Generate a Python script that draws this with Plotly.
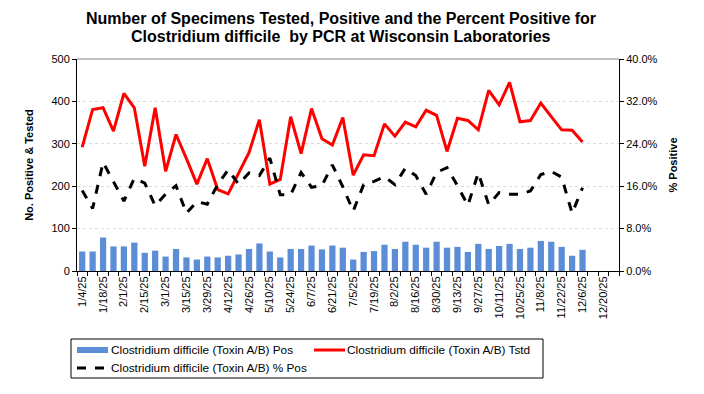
import plotly.graph_objects as go

weeks = ["1/4/25","1/11/25","1/18/25","1/25/25","2/1/25","2/8/25","2/15/25","2/22/25",
         "3/1/25","3/8/25","3/15/25","3/22/25","3/29/25","4/5/25","4/12/25","4/19/25",
         "4/26/25","5/3/25","5/10/25","5/17/25","5/24/25","5/31/25","6/7/25","6/14/25",
         "6/21/25","6/28/25","7/5/25","7/12/25","7/19/25","7/26/25","8/2/25","8/9/25",
         "8/16/25","8/23/25","8/30/25","9/6/25","9/13/25","9/20/25","9/27/25","10/4/25",
         "10/11/25","10/18/25","10/25/25","11/1/25","11/8/25","11/15/25","11/22/25",
         "11/29/25","12/6/25","12/13/25","12/20/25","12/27/25"]

pos = [46,46,79,58,58,67,43,48,34,52,32,27,34,32,36,39,52,65,46,32,52,52,60,51,60,55,27,
       45,47,62,52,69,62,55,69,55,57,45,64,52,59,64,52,55,71,69,57,36,50]

tstd = [292,381,385,330,419,385,247,385,235,322,265,205,265,192,182,231,279,357,205,216,
        364,277,383,312,297,362,226,
        274,272,347,318,351,340,379,367,282,360,355,333,426,392,445,352,355,396,364,333,332,304]

pct_pos = [15.2,11.8,20.5,16.9,13.2,17.5,16.6,12.3,14.5,16.1,10.9,13.1,12.6,16.3,19.1,16.4,
           18.5,18.0,21.3,14.4,14.4,18.6,15.8,16.1,20.0,15.9,11.3,
           16.3,16.9,17.8,16.3,19.4,18.0,14.5,18.6,19.5,16.1,12.4,18.5,12.5,14.8,14.5,14.5,
           15.1,18.2,18.8,17.7,10.9,15.7]

series_names = ["Clostridium difficile (Toxin A/B) Pos",
                "Clostridium difficile (Toxin A/B) Tstd",
                "Clostridium difficile (Toxin A/B) % Pos"]
title_lines = ["Number of Specimens Tested, Positive and the Percent Positive for",
               "Clostridium difficile  by PCR at Wisconsin Laboratories"]

left_ticks = [0, 100, 200, 300, 400, 500]
right_ticks = [0.0, 0.08, 0.16, 0.24, 0.32, 0.40]

FONT = "Liberation Sans, Arial, sans-serif"
BLUE = "#5B8ED6"
RED = "#FF0000"
n = len(pos)

# plot area in pixels
L, R, T, B = 77, 619, 59, 271
W, H = R - L, B - T


def px(xp):
    return (xp - L) / W


def py(yp):
    return (B - yp) / H


fig = go.Figure()
fig.add_trace(go.Bar(
    x=weeks[:n], y=pos, name=series_names[0],
    marker=dict(color=BLUE, line=dict(width=0)),
))
fig.add_trace(go.Scatter(
    x=weeks[:n], y=tstd, name=series_names[1],
    mode="lines", line=dict(color=RED, width=3),
))
fig.add_trace(go.Scatter(
    x=weeks[:n], y=[v / 100 for v in pct_pos], name=series_names[2],
    mode="lines", line=dict(color="#000000", width=3, dash="dash"), yaxis="y2",
))

ticktext = [w if i % 2 == 0 else "" for i, w in enumerate(weeks)]

fig.update_layout(
    width=704, height=394,
    margin=dict(l=L, r=704 - R, t=T, b=394 - B, autoexpand=False),
    paper_bgcolor="white", plot_bgcolor="white",
    font=dict(family=FONT, size=11, color="black"),
    bargap=0.4,
    showlegend=False,
    xaxis=dict(
        type="category", categoryorder="array", categoryarray=weeks,
        range=[-0.5, len(weeks) - 0.5], automargin=False,
        tickmode="array", tickvals=weeks, ticktext=ticktext,
        tickangle=-90, tickson="boundaries", ticks="outside", ticklen=4,
        tickcolor="black", showline=True, linecolor="black", linewidth=1,
        showgrid=False, tickfont=dict(size=11),
    ),
    yaxis=dict(
        range=[0, 500], tickvals=left_ticks, showline=True, linecolor="black",
        linewidth=1, ticks="outside", ticklen=4, tickcolor="black", automargin=False,
        showgrid=True, gridcolor="#DADADA", griddash="dot", gridwidth=1,
        zeroline=False,
        title=dict(text="<b>No. Positive & Tested</b>", font=dict(size=11), standoff=15),
        tickfont=dict(size=11),
    ),
    yaxis2=dict(
        overlaying="y", side="right", range=[0, 0.40], tickvals=right_ticks,
        tickformat=".1%", showline=True, linecolor="black", linewidth=1, automargin=False,
        ticks="outside", ticklen=4, tickcolor="black", showgrid=False, zeroline=False,
        title=dict(text="<b>% Positive</b>", font=dict(size=11), standoff=12),
        tickfont=dict(size=11),
    ),
)

# top border of plot area
fig.add_shape(type="line", xref="paper", yref="paper", x0=0, x1=1, y0=1, y1=1,
              line=dict(color="#808080", width=1))

# title (two lines)
for txt, yp in zip(title_lines, [18, 37]):
    fig.add_annotation(text="<b>" + txt + "</b>", xref="paper", yref="paper",
                       x=px(341), y=py(yp), xanchor="center", yanchor="middle",
                       showarrow=False, font=dict(family=FONT, size=16, color="black"))

# legend drawn manually
fig.add_shape(type="rect", xref="paper", yref="paper",
              x0=px(71), x1=px(543), y0=py(339), y1=py(378),
              line=dict(color="black", width=1), fillcolor="white")
fig.add_shape(type="rect", xref="paper", yref="paper",
              x0=px(77), x1=px(108), y0=py(347), y1=py(353),
              line=dict(width=0), fillcolor=BLUE)
fig.add_shape(type="line", xref="paper", yref="paper",
              x0=px(314), x1=px(345), y0=py(350), y1=py(350),
              line=dict(color=RED, width=3))
fig.add_shape(type="line", xref="paper", yref="paper",
              x0=px(77), x1=px(108), y0=py(368), y1=py(368),
              line=dict(color="black", width=3, dash="dash"))
for txt, xp, yp in [(series_names[0], 109, 350), (series_names[1], 345, 350),
                    (series_names[2], 109, 368)]:
    fig.add_annotation(text=txt, xref="paper", yref="paper", x=px(xp), y=py(yp),
                       xanchor="left", yanchor="middle", showarrow=False,
                       font=dict(family=FONT, size=11.8, color="black"))

fig.write_html("out.html", config={"displayModeBar": False},
               post_script="document.body.style.margin='0';document.body.style.padding='0';")
